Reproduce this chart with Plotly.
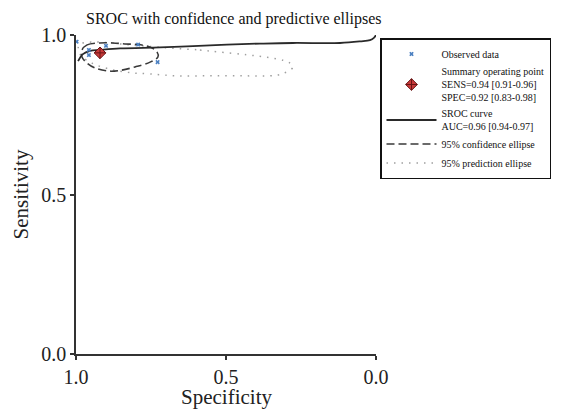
import plotly.graph_objects as go

# ---- data ----
obs_spec = [0.998, 0.957, 0.957, 0.900, 0.793, 0.728]
obs_sens = [0.979, 0.953, 0.937, 0.966, 0.970, 0.915]

sum_spec = [0.92]
sum_sens = [0.944]

sroc_spec = [0.993, 0.977, 0.953, 0.92, 0.853, 0.72, 0.61, 0.497, 0.387, 0.277, 0.12, 0.053, 0.02, 0.007, 0.0]
sroc_sens = [0.918, 0.940, 0.950, 0.953, 0.958, 0.961, 0.965, 0.970, 0.973, 0.975, 0.975, 0.980, 0.984, 0.991, 1.0]

conf_spec = [0.98, 0.963, 0.92, 0.877, 0.837, 0.793, 0.753, 0.73, 0.727, 0.753, 0.803, 0.853, 0.893, 0.937, 0.963, 0.98, 0.98]
conf_sens = [0.953, 0.969, 0.975, 0.975, 0.972, 0.970, 0.962, 0.947, 0.931, 0.915, 0.900, 0.889, 0.887, 0.897, 0.912, 0.931, 0.953]

pred_spec = [0.687, 0.587, 0.527, 0.43, 0.363, 0.31, 0.287, 0.277, 0.31, 0.353, 0.443, 0.553, 0.663, 0.753,
             0.82, 0.887, 0.947, 0.987, 0.99, 0.947, 0.82, 0.687]
pred_sens = [0.959, 0.953, 0.947, 0.938, 0.930, 0.921, 0.912, 0.899, 0.879, 0.872, 0.872, 0.872, 0.872, 0.878,
             0.882, 0.893, 0.912, 0.940, 0.969, 0.978, 0.969, 0.959]

x_ticks = [1.0, 0.5, 0.0]
y_ticks = [0.0, 0.5, 1.0]
tick_labels = ["1.0", "0.5", "0.0"]
y_tick_labels = ["0.0", "0.5", "1.0"]

x_title = "Specificity"
y_title = "Sensitivity"
chart_title = "SROC with confidence and predictive ellipses"

legend_names = [
    "Observed data",
    "Summary operating point<br>SENS=0.94 [0.91-0.96]<br>SPEC=0.92 [0.83-0.98]",
    "SROC curve<br>AUC=0.96 [0.94-0.97]",
    "95% confidence ellipse",
    "95% prediction ellipse",
]

SERIF = "Liberation Serif"

fig = go.Figure()

fig.add_trace(go.Scatter(
    x=pred_spec, y=pred_sens, mode="lines", line_shape="spline",
    line=dict(color="#a0a0a0", width=1.5, dash="1.5px,6px"),
    name=legend_names[4], legendrank=5, cliponaxis=False))
fig.add_trace(go.Scatter(
    x=conf_spec, y=conf_sens, mode="lines", line_shape="spline",
    line=dict(color="#3a3a3a", width=1.6, dash="8px,4px"),
    name=legend_names[3], legendrank=4, cliponaxis=False))
fig.add_trace(go.Scatter(
    x=sroc_spec, y=sroc_sens, mode="lines", line_shape="spline",
    line=dict(color="#2a2a2a", width=1.8),
    name=legend_names[2], legendrank=3, cliponaxis=False))
fig.add_trace(go.Scatter(
    x=obs_spec, y=obs_sens, mode="markers",
    marker=dict(symbol="x", size=4, color="#4a7fc1", line=dict(width=0)),
    name=legend_names[0], legendrank=1, cliponaxis=False))
fig.add_trace(go.Scatter(
    x=sum_spec, y=sum_sens, mode="markers",
    marker=dict(symbol="diamond-cross", size=9, color="#c83a3a",
                line=dict(color="#6a1414", width=1)),
    name=legend_names[1], legendrank=2, cliponaxis=False))

axis_common = dict(
    showgrid=False, zeroline=False, showline=True, linecolor="#333333", linewidth=1.5,
    ticks="outside", ticklen=4, tickwidth=1.5, tickcolor="#333333",
    tickfont=dict(family=SERIF, size=20, color="#222222"),
    mirror=False, automargin=False,
)

fig.update_xaxes(range=[1, 0], tickvals=x_ticks, ticktext=tick_labels, **axis_common)
fig.update_yaxes(range=[0, 1], tickvals=y_ticks, ticktext=y_tick_labels,
                 title=dict(text=y_title, font=dict(family=SERIF, size=21, color="#222222"), standoff=7),
                 **axis_common)

fig.add_annotation(
    text=x_title, showarrow=False,
    xref="paper", x=0.5, xanchor="center",
    yref="paper", y=(354 - 383) / 319, yanchor="top",
    font=dict(family=SERIF, size=21, color="#222222"),
)

fig.update_layout(
    width=564, height=409,
    margin=dict(l=76, r=188, t=35, b=55, autoexpand=False),
    plot_bgcolor="white", paper_bgcolor="white",
    title=dict(text=chart_title,
               font=dict(family=SERIF, size=16, color="#111111"),
               x=86 / 564, xanchor="left", xref="container",
               y=1 - 18 / 409, yanchor="middle", yref="container"),
    legend=dict(
        xref="container", yref="container",
        x=380 / 564, xanchor="left", y=1 - 38 / 409, yanchor="top",
        bordercolor="#111111", borderwidth=1.5, bgcolor="white",
        font=dict(family=SERIF, size=10, color="#111111"),
        itemwidth=50, tracegroupgap=0,
    ),
    showlegend=True,
)

fig.write_html("out.html")
